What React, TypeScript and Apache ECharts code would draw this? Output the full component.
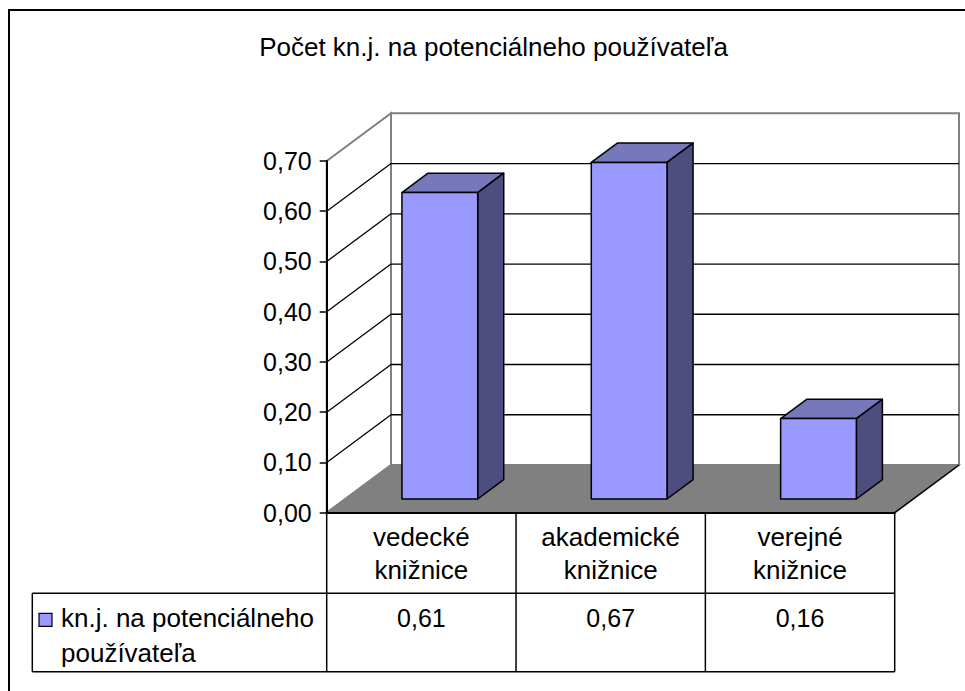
import React, { useEffect, useRef } from "react";
import * as echarts from "echarts";

const chartTitle = "Počet kn.j. na potenciálneho používateľa";
const seriesName = "kn.j. na potenciálneho používateľa";
const categories = ["vedecké knižnice", "akademické knižnice", "verejné knižnice"];
const values = [0.61, 0.67, 0.16];
const yTicks = [0, 0.1, 0.2, 0.3, 0.4, 0.5, 0.6, 0.7];

const FONT = "'Liberation Sans', Arial, sans-serif";
const FS = 25;
const FT = 26;
const fmt = (v: number) => v.toFixed(2).replace(".", ",");

// layout
const GL = 326.7, GT = 161, GW = 568, GH = 351.7;
const DX = 64.3, DY = -47.7;
const F1 = 0.287, F2 = 0.692;
const ROW1 = 593.3, ROW2 = 671.7, LEG_L = 32.3;

export default function App() {
  const ref = useRef<HTMLDivElement>(null);
  useEffect(() => {
    if (!ref.current) return;
    const chart = echarts.init(ref.current, null, { renderer: "svg" });
    const colW = GW / categories.length;
    const yMin = yTicks[0], yMax = yTicks[yTicks.length - 1];
    const gridVals = yTicks.slice(1, -1);
    const nameCut = seriesName.lastIndexOf(" ");
    const legendLines = [seriesName.slice(0, nameCut), seriesName.slice(nameCut + 1)];

    const graphics: any[] = [
      { type: "rect", shape: { x: 9, y: 10, width: 1000, height: 720 }, style: { fill: "none", stroke: "#000", lineWidth: 2 }, z: 0 },
      { type: "text", x: 493.5, y: 46.5, style: { text: chartTitle, font: `${FT}px ${FONT}`, fill: "#000", align: "center", verticalAlign: "middle" } },
      // table lines
      { type: "line", shape: { x1: LEG_L, y1: ROW1, x2: GL + GW, y2: ROW1 }, style: { stroke: "#000", lineWidth: 1.5 } },
      { type: "line", shape: { x1: LEG_L, y1: ROW2, x2: GL + GW, y2: ROW2 }, style: { stroke: "#000", lineWidth: 1.5 } },
      { type: "line", shape: { x1: LEG_L, y1: ROW1, x2: LEG_L, y2: ROW2 }, style: { stroke: "#000", lineWidth: 1.5 } },
      { type: "rect", shape: { x: 39, y: 613.3, width: 13, height: 13 }, style: { fill: "#9999FF", stroke: "#000", lineWidth: 1.2 } },
    ];
    legendLines.forEach((t, i) => {
      graphics.push({ type: "text", x: 61, y: 617.5 + i * 35, style: { text: t, font: `${FT}px ${FONT}`, fill: "#000", align: "left", verticalAlign: "middle" } });
    });
    for (let i = 0; i <= categories.length; i++) {
      const x = GL + i * colW;
      graphics.push({ type: "line", shape: { x1: x, y1: GT + GH, x2: x, y2: ROW2 }, style: { stroke: "#000", lineWidth: 1.5 } });
    }
    values.forEach((v, i) => {
      graphics.push({ type: "text", x: GL + (i + 0.5) * colW, y: 617.5, style: { text: fmt(v), font: `${FS}px ${FONT}`, fill: "#000", align: "center", verticalAlign: "middle" } });
    });

    const option: any = {
      animation: false,
      grid: { left: GL, top: GT, width: GW, height: GH, containLabel: false },
      xAxis: {
        type: "category",
        data: categories,
        boundaryGap: true,
        axisLine: { show: true, lineStyle: { color: "#000", width: 2 } },
        axisTick: { show: false },
        axisLabel: {
          interval: 0,
          margin: 8,
          formatter: (s: string) => s.replace(" ", "\n"),
          fontFamily: FONT, fontSize: FT, color: "#000", lineHeight: 32.6,
        },
        splitLine: { show: false },
      },
      yAxis: {
        type: "value",
        min: yMin, max: yMax, interval: 0.1,
        axisLine: { show: true, lineStyle: { color: "#000", width: 2 } },
        axisTick: { show: true, length: 7, lineStyle: { color: "#000", width: 1.5 } },
        axisLabel: { margin: 15, formatter: (v: number) => fmt(v), fontFamily: FONT, fontSize: FS, color: "#000" },
        splitLine: { show: false },
      },
      graphic: graphics,
      series: [
        {
          type: "custom", z: -2, silent: true, data: [[0, 0]],
          renderItem: (params: any) => {
            const cs = params.coordSys;
            const x0 = cs.x, x1 = cs.x + cs.width, yT = cs.y, yB = cs.y + cs.height;
            return {
              type: "group",
              children: [
                { type: "rect", shape: { x: x0 + DX, y: yT + DY, width: cs.width, height: cs.height }, style: { fill: "#fff", stroke: "#808080", lineWidth: 2 } },
                { type: "polygon", shape: { points: [[x0, yT], [x0 + DX, yT + DY], [x0 + DX, yB + DY], [x0, yB]] }, style: { fill: "#fff", stroke: "#808080", lineWidth: 2 } },
                { type: "polygon", shape: { points: [[x0, yB], [x0 + DX, yB + DY], [x1 + DX, yB + DY], [x1, yB]] }, style: { fill: "#808080", stroke: "#808080", lineWidth: 1.5 } },
                { type: "line", shape: { x1: x1, y1: yB, x2: x1 + DX, y2: yB + DY }, style: { stroke: "#000", lineWidth: 1.5 } },
              ],
            };
          },
        },
        {
          type: "custom", z: -1, silent: true, data: gridVals.map((v) => [0, v]),
          renderItem: (params: any, api: any) => {
            const cs = params.coordSys;
            const x0 = cs.x, x1 = cs.x + cs.width;
            const y = api.coord([0, api.value(1)])[1];
            return {
              type: "group",
              children: [
                { type: "line", shape: { x1: x0, y1: y, x2: x0 + DX, y2: y + DY }, style: { stroke: "#000", lineWidth: 1.3 } },
                { type: "line", shape: { x1: x0 + DX, y1: y + DY, x2: x1 + DX, y2: y + DY }, style: { stroke: "#000", lineWidth: 1.3 } },
              ],
            };
          },
        },
        {
          type: "custom", name: seriesName, z: 3,
          data: values.map((v, i) => [i, v]),
          encode: { x: 0, y: 1 },
          renderItem: (params: any, api: any) => {
            const idx = api.value(0), v = api.value(1);
            const [cx, yv] = api.coord([idx, v]);
            const y0 = api.coord([idx, 0])[1];
            const w = api.size([1, 0])[0] * 0.4;
            const xl = cx - w / 2, xr = cx + w / 2;
            const s = { stroke: "#000", lineWidth: 1.5, lineJoin: "round" };
            return {
              type: "group",
              children: [
                { type: "polygon", shape: { points: [[xl + F1 * DX, yv + F1 * DY], [xl + F2 * DX, yv + F2 * DY], [xr + F2 * DX, yv + F2 * DY], [xr + F1 * DX, yv + F1 * DY]] }, style: { fill: "#7777BB", ...s } },
                { type: "polygon", shape: { points: [[xr + F1 * DX, yv + F1 * DY], [xr + F2 * DX, yv + F2 * DY], [xr + F2 * DX, y0 + F2 * DY], [xr + F1 * DX, y0 + F1 * DY]] }, style: { fill: "#4D4D80", ...s } },
                { type: "rect", shape: { x: xl + F1 * DX, y: yv + F1 * DY, width: w, height: y0 - yv }, style: { fill: "#9999FF", ...s } },
              ],
            };
          },
        },
      ],
    };
    chart.setOption(option);
    return () => chart.dispose();
  }, []);
  return <div ref={ref} style={{ position: "fixed", left: 0, top: 0, width: 965, height: 691, background: "#fff" }} />;
}
